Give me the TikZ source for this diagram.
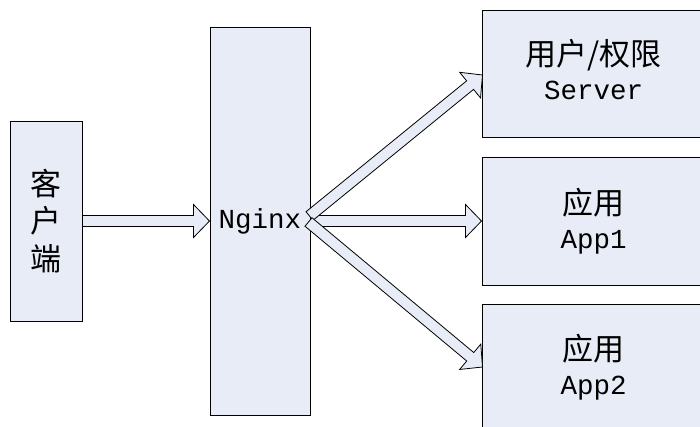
\documentclass[tikz,border=0pt]{standalone}
\usepackage{fontspec}
\setmainfont{Liberation Mono}
\newfontfamily\cjk{Noto Sans CJK SC}
\usetikzlibrary{calc}
\definecolor{boxfill}{RGB}{232,236,247}
\newcommand\zh[1]{{\cjk\fontsize{31}{34}\selectfont #1}}
\tikzset{
  box/.style={draw=black, line width=1pt, fill=boxfill, inner sep=0pt, align=center, font=\fontsize{27.5}{34}\selectfont},
  txt/.style={inner sep=0pt, align=center, font=\fontsize{27.5}{34}\selectfont},
  arr/.style={draw=black, line width=0.8pt, fill=boxfill, line join=miter}
}
\newcommand\blockarrow[2]{%
  \path ($(#2)!16pt!(#1)$) coordinate (hb);
  \draw[arr] ($(#1)!5.5pt!90:(#2)$) -- ($(hb)!5.5pt!90:(#2)$) -- ($(hb)!16.5pt!90:(#2)$) -- (#2)
    -- ($(hb)!16.5pt!-90:(#2)$) -- ($(hb)!5.5pt!-90:(#2)$) -- ($(#1)!5.5pt!-90:(#2)$) -- cycle;}
\begin{document}
\begin{tikzpicture}[x=1pt,y=-1pt]
\useasboundingbox (0,0) rectangle (700,426);
\clip (0,0) rectangle (700,426);
\node[box, minimum width=72pt, minimum height=200pt, font=\cjk\fontsize{31}{37.5}\selectfont] (client) at (46,221) {客\\户\\端};
\node[box, minimum width=100pt, minimum height=388pt] (nginx) at (260,221) {Nginx};
\node[box, minimum width=223pt, minimum height=127pt] (srv) at (593.5,73.5) {};
\node[txt] (srvt) at ($(srv.center)+(0,-4)$) {\zh{用户/权限}\\Server};
\node[box, minimum width=223pt, minimum height=128pt] (app1) at (593.5,221) {\zh{应用}\\App1};
\node[box, minimum width=223pt, minimum height=126pt] (app2) at (593.5,367) {\zh{应用}\\App2};
\coordinate (ns1) at ($(nginx.east)+(-1,-5)$);
\coordinate (ns2) at ($(nginx.east)+(-2,1)$);
\coordinate (t1) at ($(srv.west)+(1,1.5)$);
\coordinate (t3) at ($(app2.west)+(1,0)$);
\blockarrow{client.east}{nginx.west}
\blockarrow{nginx.east}{app1.west}
\blockarrow{ns1}{t1}
\blockarrow{ns2}{t3}
\end{tikzpicture}
\end{document}
